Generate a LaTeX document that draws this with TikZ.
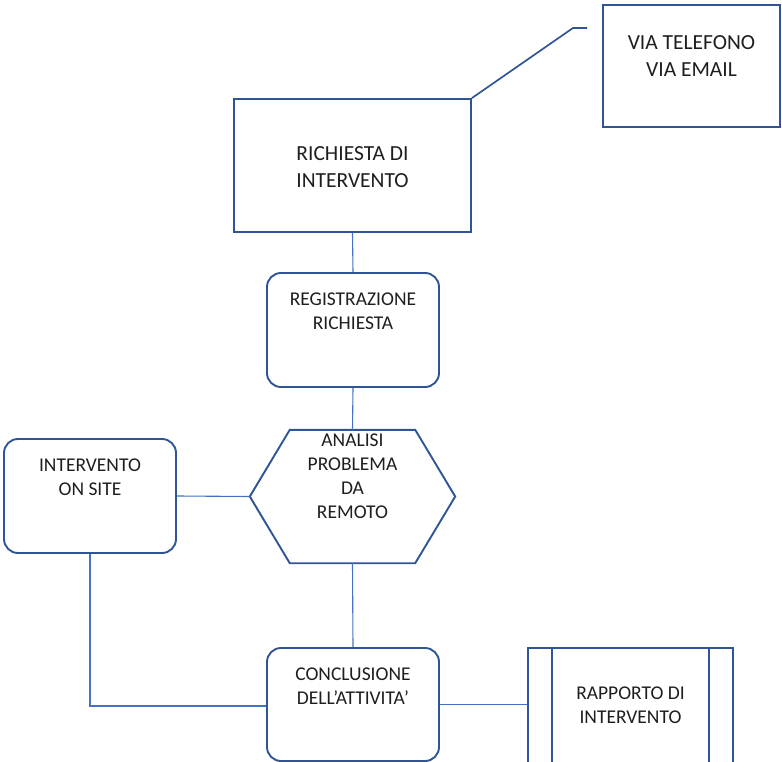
\documentclass[tikz,border=0pt]{standalone}
\usepackage{fontspec}
\setmainfont{Carlito}
\definecolor{boxblue}{RGB}{47,85,151}
\definecolor{lineblue}{RGB}{68,114,196}
\definecolor{textgray}{RGB}{30,30,30}
\begin{document}
\begin{tikzpicture}[x=1pt,y=-1pt,
  boxline/.style={draw=boxblue, line width=1.9pt},
  sqbox/.style={boxline, rectangle, inner sep=0pt},
  rbox/.style={boxline, rectangle, rounded corners=14pt, inner sep=0pt},
  ghost/.style={rectangle, inner sep=0pt},
  txt/.style={align=center, font=\fontsize{19.5}{24}\selectfont, text=textgray, inner sep=0pt},
  bigtxt/.style={align=center, font=\fontsize{21.5}{27}\selectfont, text=textgray, inner sep=0pt},
  conn/.style={draw=lineblue, line width=1.1pt}]
\clip (0,0) rectangle (782,762);

% boxes
\node[sqbox, minimum width=177pt, minimum height=122pt] (via) at (691.5,66) {};
\node[bigtxt] (viat) at (691.5,56) {VIA TELEFONO\\VIA EMAIL};

\node[sqbox, minimum width=237pt, minimum height=133pt] (rich) at (352.5,165.5) {};
\node[bigtxt] (richt) at (352.5,167) {RICHIESTA DI\\INTERVENTO};

\node[rbox, minimum width=172pt, minimum height=114pt] (reg) at (353,330) {};
\node[txt] (regt) at (353,311) {REGISTRAZIONE\\RICHIESTA};

\node[ghost, minimum width=205pt, minimum height=133pt] (hex) at (352.5,496.5) {};
\draw[boxline, line join=miter] (hex.west) -- ([xshift=40pt]hex.north west) -- ([xshift=-40pt]hex.north east)
  -- (hex.east) -- ([xshift=-40pt]hex.south east) -- ([xshift=40pt]hex.south west) -- cycle;
\node[txt, font=\fontsize{19.5}{24}\selectfont] (hext) at (352.5,476) {ANALISI\\PROBLEMA\\DA\\REMOTO};

\node[rbox, minimum width=172pt, minimum height=114pt] (site) at (90,496) {};
\node[txt] (sitet) at (90,477.5) {INTERVENTO\\ON SITE};

\node[rbox, minimum width=172pt, minimum height=113pt] (concl) at (353,704.5) {};
\node[txt] (conclt) at (353,686.5) {CONCLUSIONE\\DELL’ATTIVITA’};

\node[sqbox, minimum width=205pt, minimum height=118pt] (rapp) at (630.5,707) {};
\draw[boxline] ([xshift=25pt]rapp.north west) -- ([xshift=25pt]rapp.south west);
\draw[boxline] ([xshift=-25pt]rapp.north east) -- ([xshift=-25pt]rapp.south east);
\node[txt] (rappt) at (630.5,705.5) {RAPPORTO DI\\INTERVENTO};

% callout
\coordinate (cbend) at (573,28);
\coordinate (cend) at (587,28);
\draw[draw=boxblue, line width=1.7pt] (rich.north east) -- (cbend) -- (cend);

% connectors
\draw[conn] (rich.south) -- (reg.north);
\draw[conn] (reg.south) -- (hex.north);
\draw[conn] (site.east) -- (hex.west);
\draw[conn] (hex.south) -- (concl.north);
\draw[conn] (site.south) |- ([yshift=-1.5pt]concl.west);
\draw[conn] (concl.east) -- (concl.east -| rapp.west);
\end{tikzpicture}
\end{document}
